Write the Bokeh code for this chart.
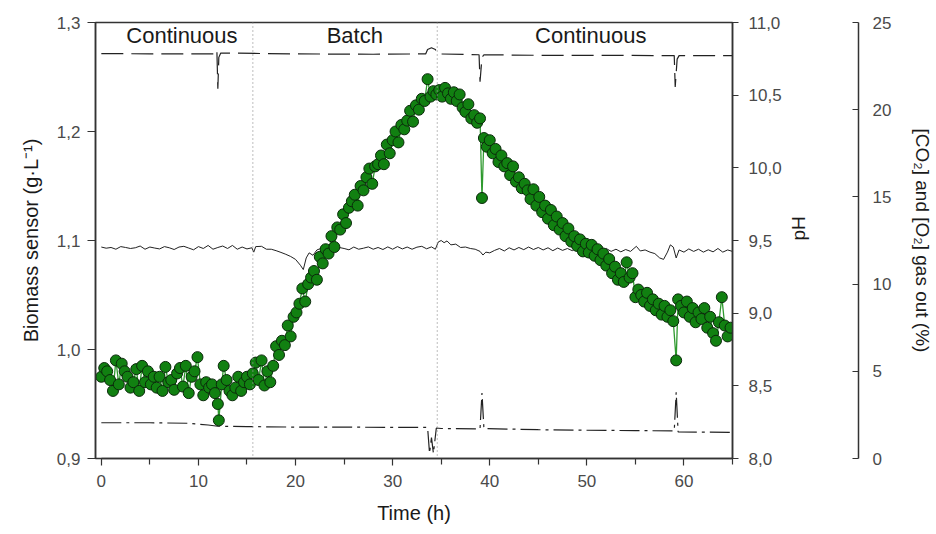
import math
from bokeh.plotting import figure
from bokeh.models import Range1d, LinearAxis, FixedTicker, CustomJSTickFormatter, Span
from bokeh.embed import file_html
from bokeh.resources import INLINE
from bokeh.core.properties import value

FONT = "Liberation Sans"

# ---------------- data ----------------
x_ticks = [0, 10, 20, 30, 40, 50, 60]
x_minor_ticks = [5, 15, 25, 35, 45, 55, 65]
biomass_ticks = [0.9, 1.0, 1.1, 1.2, 1.3]
ph_ticks = [8.0, 8.5, 9.0, 9.5, 10.0, 10.5, 11.0]
gas_ticks = [0, 5, 10, 15, 20, 25]

phase_bounds = [15.6, 34.6]
phase_names = ["Continuous", "Batch", "Continuous"]
phase_label_x = [8.3, 26.1, 50.4]
phase_label_y = [1.288, 1.288, 1.288]

bio_time = [
    0.0, 0.3, 0.6, 0.9, 1.2, 1.5, 1.8, 2.1, 2.4, 2.7, 3.0, 3.3, 3.6, 3.9, 4.2, 4.5, 4.8, 5.1, 5.4, 5.7,
    6.0, 6.3, 6.6, 6.9, 7.2, 7.5, 7.8, 8.1, 8.4, 8.7, 9.0, 9.3, 9.6, 9.9, 10.2, 10.5, 10.8, 11.1, 11.4, 11.7,
    12.0, 12.1, 12.4, 12.6, 12.9, 13.2, 13.5, 13.8, 14.1, 14.4, 14.7, 15.0, 15.3, 15.6, 15.9, 16.2, 16.5, 16.8, 17.1, 17.4,
    17.7, 18.0, 18.3, 18.6, 18.9, 19.2, 19.5, 19.8, 20.1, 20.4, 20.7, 21.0, 21.3, 21.6, 21.9, 22.2, 22.5, 22.8, 23.1, 23.4,
    23.7, 24.0, 24.3, 24.6, 24.9, 25.2, 25.5, 25.8, 26.1, 26.4, 26.7, 27.0, 27.3, 27.6, 27.9, 28.2, 28.5, 28.8, 29.1, 29.4,
    29.7, 30.0, 30.3, 30.6, 30.9, 31.2, 31.5, 31.8, 32.1, 32.4, 32.7, 33.0, 33.3, 33.6, 33.9, 34.2, 34.5, 34.8, 35.1, 35.4,
    35.7, 36.0, 36.3, 36.6, 36.9, 37.2, 37.5, 37.8, 38.1, 38.4, 38.7, 39.0, 39.2, 39.4, 39.7, 40.0, 40.3, 40.6, 40.9, 41.2,
    41.5, 41.8, 42.1, 42.4, 42.7, 43.0, 43.3, 43.6, 43.9, 44.2, 44.5, 44.8, 45.1, 45.4, 45.7, 46.0, 46.3, 46.6, 46.9, 47.2,
    47.5, 47.8, 48.1, 48.4, 48.7, 49.0, 49.3, 49.6, 49.9, 50.2, 50.5, 50.8, 51.1, 51.4, 51.7, 52.0, 52.3, 52.6, 52.9, 53.2,
    53.5, 53.8, 54.1, 54.4, 54.7, 55.0, 55.3, 55.6, 55.9, 56.2, 56.5, 56.8, 57.1, 57.4, 57.7, 58.0, 58.3, 58.6, 58.9, 59.2,
    59.4, 59.7, 60.0, 60.3, 60.6, 60.9, 61.2, 61.5, 61.8, 62.1, 62.4, 62.7, 63.0, 63.3, 63.6, 63.9, 64.2, 64.5, 64.8,
]
bio_value = [
    0.975, 0.983, 0.980, 0.972, 0.962, 0.990, 0.968, 0.987, 0.980, 0.975, 0.965, 0.970, 0.982, 0.962, 0.985, 0.970, 0.980, 0.968, 0.975, 0.965,
    0.975, 0.962, 0.984, 0.970, 0.972, 0.963, 0.978, 0.983, 0.966, 0.985, 0.960, 0.975, 0.980, 0.993, 0.968, 0.958, 0.970, 0.965, 0.968, 0.960,
    0.950, 0.935, 0.968, 0.985, 0.972, 0.962, 0.958, 0.965, 0.975, 0.962, 0.970, 0.975, 0.968, 0.978, 0.988, 0.972, 0.990, 0.967, 0.980, 0.970,
    0.985, 1.003, 0.995, 1.008, 1.004, 1.022, 1.012, 1.030, 1.034, 1.042, 1.056, 1.044, 1.060, 1.066, 1.072, 1.064, 1.085, 1.079, 1.092, 1.088,
    1.104, 1.094, 1.112, 1.110, 1.124, 1.116, 1.130, 1.136, 1.142, 1.132, 1.150, 1.146, 1.158, 1.166, 1.152, 1.168, 1.170, 1.178, 1.170, 1.188,
    1.180, 1.192, 1.200, 1.190, 1.206, 1.202, 1.210, 1.219, 1.209, 1.224, 1.220, 1.230, 1.228, 1.248, 1.232, 1.237, 1.234, 1.238, 1.232, 1.240,
    1.235, 1.230, 1.236, 1.228, 1.234, 1.222, 1.218, 1.225, 1.212, 1.215, 1.208, 1.212, 1.139, 1.194, 1.186, 1.192, 1.180, 1.184, 1.172, 1.178,
    1.168, 1.171, 1.160, 1.168, 1.154, 1.158, 1.148, 1.152, 1.146, 1.138, 1.147, 1.132, 1.140, 1.126, 1.132, 1.120, 1.128, 1.114, 1.122, 1.110,
    1.116, 1.104, 1.111, 1.099, 1.104, 1.095, 1.101, 1.090, 1.097, 1.089, 1.096, 1.086, 1.092, 1.082, 1.088, 1.077, 1.083, 1.070, 1.076, 1.064,
    1.070, 1.062, 1.080, 1.066, 1.070, 1.048, 1.055, 1.050, 1.044, 1.052, 1.040, 1.046, 1.036, 1.042, 1.032, 1.040, 1.030, 1.036, 1.026, 0.990,
    1.046, 1.040, 1.034, 1.044, 1.030, 1.038, 1.025, 1.034, 1.028, 1.038, 1.020, 1.030, 1.015, 1.008, 1.025, 1.048, 1.022, 1.012, 1.020,
]

ph_time = [
    0.0, 0.5, 1.0, 1.5, 2.0, 2.5, 3.0, 3.5, 4.0, 4.5, 5.0, 5.5, 6.0, 6.5, 7.0, 7.5, 8.0, 8.5, 9.0, 9.5,
    10.0, 10.5, 11.0, 11.5, 12.0, 12.5, 13.0, 13.5, 14.0, 14.5, 15.0, 15.5, 15.7, 15.9, 16.5, 17.0, 17.5, 18.0, 18.5, 19.0,
    19.5, 20.0, 20.5, 20.8, 21.1, 21.4, 21.8, 22.2, 22.6, 23.0, 23.5, 24.0, 24.5, 25.0, 25.5, 26.0, 26.5, 27.0, 27.5, 28.0,
    28.5, 29.0, 29.5, 30.0, 30.5, 31.0, 31.5, 32.0, 32.5, 33.0, 33.5, 34.0, 34.4, 34.7, 35.0, 35.3, 35.6, 36.0, 36.5, 37.0,
    37.5, 38.0, 38.5, 39.0, 39.3, 39.6, 40.0, 40.5, 41.0, 41.5, 42.0, 42.5, 43.0, 43.5, 44.0, 44.5, 45.0, 45.5, 46.0, 46.5,
    47.0, 47.5, 48.0, 48.5, 49.0, 49.5, 50.0, 50.5, 51.0, 51.5, 52.0, 52.5, 53.0, 53.5, 54.0, 54.5, 55.1, 55.5, 56.0, 56.5,
    57.0, 57.5, 57.9, 58.3, 58.6, 58.9, 59.2, 59.5, 60.0, 60.5, 61.0, 61.5, 62.0, 62.5, 63.0, 63.5, 64.0, 64.5, 65.0,
]
ph_value = [
    9.455, 9.447, 9.452, 9.440, 9.458, 9.452, 9.445, 9.450, 9.462, 9.440, 9.455, 9.448, 9.442, 9.458, 9.450, 9.438, 9.455, 9.460, 9.448, 9.436,
    9.458, 9.445, 9.466, 9.440, 9.452, 9.462, 9.445, 9.466, 9.440, 9.455, 9.442, 9.450, 9.420, 9.458, 9.460, 9.440, 9.440, 9.430, 9.418, 9.405,
    9.390, 9.370, 9.330, 9.300, 9.380, 9.415, 9.398, 9.435, 9.445, 9.432, 9.456, 9.440, 9.452, 9.445, 9.436, 9.455, 9.440, 9.447, 9.456, 9.440,
    9.452, 9.438, 9.456, 9.440, 9.458, 9.442, 9.455, 9.440, 9.454, 9.460, 9.443, 9.456, 9.440, 9.490, 9.500, 9.485, 9.497, 9.470, 9.475, 9.452,
    9.455, 9.445, 9.440, 9.425, 9.400, 9.420, 9.415, 9.432, 9.445, 9.428, 9.450, 9.435, 9.452, 9.437, 9.455, 9.438, 9.452, 9.435, 9.450, 9.430,
    9.448, 9.432, 9.445, 9.430, 9.448, 9.428, 9.445, 9.425, 9.442, 9.420, 9.445, 9.425, 9.440, 9.422, 9.438, 9.425, 9.460, 9.428, 9.435, 9.420,
    9.410, 9.380, 9.370, 9.420, 9.470, 9.455, 9.380, 9.435, 9.420, 9.442, 9.425, 9.440, 9.420, 9.436, 9.422, 9.445, 9.420, 9.435, 9.425,
]

o2_time = [0.0, 5.0, 11.8, 11.9, 12.0, 12.1, 12.3, 20.0, 28.0, 33.4, 33.6, 34.0, 34.4, 34.6, 38.9, 39.0, 39.2, 39.4,
           45.0, 52.0, 59.0, 59.1, 59.3, 59.5, 65.0]
o2_value = [23.22, 23.2, 23.2, 23.4, 21.2, 23.0, 23.25, 23.2, 23.18, 23.2, 23.45, 23.55, 23.45, 23.2, 23.15, 21.6, 23.0, 23.15,
            23.12, 23.12, 23.1, 21.3, 22.9, 23.1, 23.1]

co2_time = [0.0, 5.0, 9.0, 11.0, 12.0, 15.0, 20.0, 25.0, 30.0, 33.6, 33.8, 34.0, 34.2, 34.5, 35.0, 39.0, 39.2, 39.4,
            45.0, 50.0, 55.0, 59.0, 59.2, 59.4, 65.0]
co2_value = [2.05, 2.05, 2.02, 1.92, 1.85, 1.83, 1.80, 1.80, 1.78, 1.78, 0.30, 1.20, 0.30, 1.75, 1.72, 1.70, 3.75, 1.72,
             1.65, 1.62, 1.60, 1.58, 3.80, 1.52, 1.50]

# ---------------- figure ----------------
AXIS_COLOR = "#333333"
TICK_LABEL_COLOR = "#4a4a4a"
TITLE_COLOR = "#1a1a1a"

p = figure(width=936, height=534, x_range=Range1d(-0.6, 65), y_range=Range1d(0.9, 1.3),
           output_backend="svg", toolbar_location=None,
           min_border_left=95, min_border_right=197, min_border_top=22, min_border_bottom=76)
p.extra_y_ranges = {"ph": Range1d(8, 11), "gas": Range1d(0, 25)}
p.xgrid.visible = False
p.ygrid.visible = False
p.outline_line_color = AXIS_COLOR
p.outline_line_width = 1.5
p.background_fill_color = "white"
p.border_fill_color = "white"

comma1 = CustomJSTickFormatter(code="return tick.toFixed(1).replace('.', ',');")
int0 = CustomJSTickFormatter(code="return tick.toFixed(0);")


def style_axis(ax, label_size="17px", title_size="20px"):
    ax.axis_line_color = AXIS_COLOR
    ax.axis_line_width = 1.5
    ax.major_tick_line_color = AXIS_COLOR
    ax.major_tick_line_width = 1.2
    ax.minor_tick_line_color = None
    ax.major_label_text_font = FONT
    ax.major_label_text_font_size = label_size
    ax.major_label_text_color = TICK_LABEL_COLOR
    ax.axis_label_text_font = FONT
    ax.axis_label_text_font_size = title_size
    ax.axis_label_text_font_style = "normal"
    ax.axis_label_text_color = TITLE_COLOR


# bottom axis
xa = p.xaxis[0]
xa.ticker = FixedTicker(ticks=x_ticks, minor_ticks=x_minor_ticks)
xa.formatter = int0
xa.bounds = (0, 65)
xa.axis_label = "Time (h)"
style_axis(xa)
xa.minor_tick_line_color = AXIS_COLOR
xa.minor_tick_line_width = 1.2
xa.major_tick_in = 0
xa.major_tick_out = 7
xa.minor_tick_in = 0
xa.minor_tick_out = 6
xa.major_label_standoff = 9
xa.axis_label_standoff = 12

# left axis
ya = p.yaxis[0]
ya.ticker = FixedTicker(ticks=biomass_ticks)
ya.formatter = comma1
ya.axis_label = "Biomass sensor (g\u00b7L\u207b\u00b9)"
style_axis(ya)
ya.major_tick_in = 0
ya.major_tick_out = 8
ya.major_label_standoff = 7
ya.axis_label_standoff = 12

# pH axis (title reads bottom-to-top)
ph_axis = LinearAxis(y_range_name="ph", ticker=FixedTicker(ticks=ph_ticks), formatter=comma1, axis_label="pH")
style_axis(ph_axis, title_size="19px")
ph_axis.major_tick_in = 0
ph_axis.major_tick_out = 6
ph_axis.major_label_standoff = 10
ph_axis.axis_label_standoff = 14
ph_axis.axis_label_orientation = math.pi / 2
p.add_layout(ph_axis, "right")

# spacer between the pH axis and the gas axis
spacer = LinearAxis(y_range_name="ph", ticker=FixedTicker(ticks=[]), axis_label=" ")
spacer.axis_line_color = None
spacer.major_tick_line_color = None
spacer.minor_tick_line_color = None
spacer.major_tick_out = 0
spacer.major_tick_in = 0
spacer.major_label_standoff = 0
spacer.axis_label_standoff = 12
spacer.axis_label_text_font_size = "19px"
p.add_layout(spacer, "right")

# gas axis
gas_axis = LinearAxis(y_range_name="gas", ticker=FixedTicker(ticks=gas_ticks), formatter=int0,
                      axis_label="[CO\u2082] and [O\u2082] gas out (%)")
style_axis(gas_axis, title_size="19px")
gas_axis.major_tick_in = 6
gas_axis.major_tick_out = 0
gas_axis.major_label_standoff = 14
gas_axis.axis_label_standoff = 18
p.add_layout(gas_axis, "right")

# phase boundaries
for b in phase_bounds:
    p.add_layout(Span(location=b, dimension="height", line_color="#9a9a9a", line_width=1.3, line_dash="1 3"))

# gas lines
p.line(o2_time, o2_value, y_range_name="gas", line_color="#222222", line_width=1.2, line_dash="22 8")
p.line(co2_time, co2_value, y_range_name="gas", line_color="#222222", line_width=1.2, line_dash="20 5 3 5")

# pH line
p.line(ph_time, ph_value, y_range_name="ph", line_color="#222222", line_width=1.0)

# biomass
p.line(bio_time, bio_value, line_color="#2f9a2f", line_width=1.3)
p.scatter(bio_time, bio_value, size=11, marker="circle", fill_color="#118011", line_color="#0b2a0b", line_width=1.0)

# phase labels
p.text(x=phase_label_x, y=phase_label_y, text=phase_names, text_font=value(FONT), text_font_size="22px",
       text_align="center", text_baseline="middle", text_color=TITLE_COLOR)

open("out.html", "w").write(file_html(p, INLINE))
